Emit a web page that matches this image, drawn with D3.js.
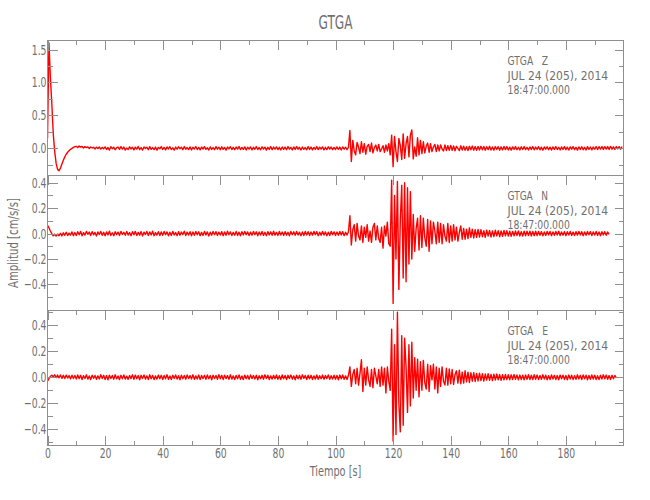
<!DOCTYPE html>
<html><head><meta charset="utf-8">
<script src="https://cdn.jsdelivr.net/npm/d3@7"></script>
<style>
body{margin:0;background:#fff}
svg{display:block}
text{font-family:"Liberation Sans Narrow","DejaVu Sans Condensed","Liberation Sans",sans-serif;fill:#707070}
</style>
</head><body>
<svg id="c" width="650" height="500"></svg>
<script>
// ---- data (cm/s/s), one sample every 0.5 s starting at t = 0 ----
const sampleInterval = 0.5;

const zValues = [
0.15,1.6,1.08,0.68,0.22,-0.05,-0.23,-0.32,-0.34,-0.3,-0.24,-0.18,-0.13,-0.09,-0.06,-0.035,-0.015,0.0,0.015,0.025,
0.03,0.012,0.034,0.018,0.028,0.004,0.026,0.01,0.022,-0.004,0.02,0.006,0.016,-0.01,0.018,-0.004,0.02,-0.012,0.014,-0.008,
0.022,-0.018,0.012,-0.026,0.025,-0.006,0.017,-0.022,0.008,0.02,-0.015,0.026,-0.012,0.019,-0.027,0.004,-0.018,0.023,-0.01,0.016,
-0.024,0.018,-0.012,0.028,-0.02,0.01,-0.026,0.021,-0.004,0.016,-0.022,0.025,-0.015,0.011,-0.019,0.02,-0.027,0.014,-0.008,0.026,
-0.017,0.013,-0.024,0.021,-0.01,0.024,-0.018,0.007,-0.027,0.019,-0.013,0.023,-0.006,0.017,-0.022,0.027,-0.014,0.012,-0.02,0.022,
-0.025,0.016,-0.01,0.027,-0.019,0.013,-0.023,0.02,-0.012,0.025,-0.016,0.009,-0.026,0.021,-0.017,0.011,-0.021,0.026,-0.013,0.018,
-0.022,0.023,-0.015,0.012,-0.027,0.019,-0.008,0.024,-0.018,0.015,-0.021,0.02,-0.012,0.028,-0.02,0.014,-0.017,0.022,-0.026,0.017,
-0.012,0.021,-0.024,0.016,-0.014,0.026,-0.019,0.012,-0.022,0.023,-0.011,0.018,-0.027,0.015,-0.017,0.025,-0.021,0.019,-0.012,0.022,
-0.019,0.015,-0.025,0.02,-0.016,0.018,-0.021,0.027,-0.013,0.014,-0.024,0.021,-0.017,0.025,-0.014,0.017,-0.026,0.019,-0.016,0.012,
-0.022,0.025,-0.017,0.019,-0.023,0.014,-0.016,0.026,-0.02,0.017,-0.012,0.022,-0.025,0.016,-0.019,0.023,-0.014,0.02,-0.021,0.013,
-0.018,0.022,-0.016,0.019,-0.025,0.02,-0.013,0.017,-0.022,0.015,0.27,-0.2,0.12,-0.04,-0.1,0.09,0.02,-0.08,0.1,-0.06,
0.07,-0.09,0.03,0.06,-0.05,0.08,-0.07,0.01,0.05,-0.04,0.06,-0.05,-0.01,0.04,-0.06,0.05,-0.04,0.07,-0.1,0.2,
-0.28,0.18,-0.05,-0.2,0.15,0.04,-0.17,0.22,-0.15,0.07,0.18,-0.13,0.2,0.28,-0.16,0.02,-0.12,0.16,-0.1,0.12,
-0.08,0.1,-0.07,0.03,0.08,-0.06,0.07,-0.05,0.02,0.06,-0.05,0.05,-0.04,0.05,-0.01,-0.04,0.05,-0.035,0.04,-0.03,
0.045,-0.03,0.035,-0.036,0.03,0.0,-0.034,0.038,-0.026,0.032,-0.03,0.025,-0.033,0.03,-0.022,0.034,-0.028,0.026,-0.03,0.029,
-0.027,0.03,-0.022,0.028,-0.03,0.024,-0.02,0.031,-0.026,0.021,-0.028,0.027,-0.018,0.025,-0.029,0.022,-0.024,0.028,-0.02,0.026,
-0.025,0.018,-0.027,0.022,-0.016,0.026,-0.021,0.015,-0.026,0.023,-0.018,0.027,-0.02,0.014,-0.025,0.021,-0.017,0.026,-0.022,0.019,
-0.016,0.025,-0.023,0.017,-0.027,0.02,-0.014,0.024,-0.021,0.018,-0.026,0.022,-0.015,0.027,-0.019,0.016,-0.024,0.021,-0.018,0.025,
-0.021,0.017,-0.026,0.022,-0.013,0.025,-0.02,0.016,-0.027,0.021,-0.017,0.024,-0.022,0.015,-0.025,0.026,-0.016,0.02,-0.023,0.019,
-0.014,0.027,-0.018,0.024,-0.012,0.028,-0.016,0.025,-0.011,0.026,-0.017,0.029,-0.013,0.024,-0.015,0.027,-0.01,0.025,-0.014,0.028
];

const nValues = [
0.065,0.045,0.02,0.0,-0.018,-0.006,-0.02,-0.004,-0.017,0.002,-0.019,0.006,-0.014,0.01,-0.016,0.004,-0.012,0.013,-0.017,0.008,
-0.015,0.014,-0.009,0.016,-0.018,0.007,-0.012,0.017,-0.006,0.011,-0.016,0.015,-0.01,0.009,-0.019,0.012,-0.008,0.016,-0.014,0.01,
-0.017,0.013,-0.011,0.018,-0.015,0.006,-0.018,0.014,-0.009,0.012,-0.016,0.017,-0.007,0.01,-0.014,0.016,-0.012,0.008,-0.018,0.015,
-0.01,0.017,-0.016,0.009,-0.013,0.015,-0.019,0.011,-0.008,0.016,-0.015,0.013,-0.011,0.018,-0.017,0.007,-0.012,0.014,-0.016,0.012,
-0.014,0.016,-0.009,0.013,-0.018,0.01,-0.015,0.017,-0.011,0.008,-0.017,0.015,-0.013,0.012,-0.008,0.018,-0.016,0.011,-0.012,0.014,
-0.018,0.012,-0.014,0.016,-0.01,0.014,-0.017,0.009,-0.015,0.017,-0.011,0.013,-0.019,0.01,-0.013,0.016,-0.009,0.015,-0.016,0.011,
-0.012,0.015,-0.017,0.012,-0.014,0.018,-0.01,0.013,-0.016,0.009,-0.013,0.017,-0.015,0.011,-0.018,0.014,-0.011,0.016,-0.009,0.013,
-0.016,0.011,-0.013,0.017,-0.009,0.014,-0.018,0.012,-0.012,0.016,-0.015,0.01,-0.017,0.015,-0.011,0.013,-0.014,0.018,-0.013,0.009,
-0.015,0.017,-0.011,0.012,-0.016,0.015,-0.013,0.01,-0.018,0.016,-0.01,0.014,-0.014,0.017,-0.012,0.011,-0.017,0.013,-0.015,0.016,
-0.011,0.014,-0.016,0.012,-0.013,0.017,-0.009,0.015,-0.017,0.011,-0.014,0.016,-0.012,0.013,-0.018,0.01,-0.015,0.017,-0.01,0.014,
-0.016,0.012,-0.013,0.016,-0.011,0.015,-0.017,0.01,-0.012,0.014,0.14,-0.09,0.03,0.07,-0.06,0.08,-0.02,-0.05,0.06,-0.07,
0.05,-0.03,0.07,-0.06,0.02,-0.07,0.05,0.08,-0.05,0.06,-0.04,-0.07,0.05,-0.115,0.06,-0.02,0.09,-0.08,-0.1,0.42,
-0.55,0.3,-0.2,0.41,-0.44,0.1,0.38,-0.35,0.4,-0.38,0.36,-0.24,0.33,-0.2,0.15,-0.14,0.04,0.12,-0.13,0.14,
-0.11,0.12,-0.03,-0.1,0.11,-0.14,0.1,-0.08,0.09,0.02,-0.08,0.09,-0.07,0.08,-0.08,0.07,-0.02,-0.06,0.08,-0.07,
0.06,-0.06,0.07,-0.05,0.05,-0.06,0.01,0.06,-0.045,0.04,-0.045,0.035,-0.04,0.045,-0.03,0.035,-0.035,0.03,-0.03,0.032,
-0.028,0.03,-0.025,0.022,-0.03,0.027,-0.02,0.025,-0.027,0.021,-0.024,0.026,-0.019,0.023,-0.025,0.02,-0.022,0.024,-0.018,0.022,
-0.02,0.019,-0.022,0.017,-0.018,0.021,-0.016,0.02,-0.019,0.015,-0.02,0.018,-0.017,0.019,-0.015,0.018,-0.019,0.016,-0.017,0.018,
-0.016,0.017,-0.013,0.015,-0.018,0.012,-0.015,0.017,-0.011,0.016,-0.017,0.013,-0.014,0.016,-0.012,0.018,-0.016,0.012,-0.013,0.015,
-0.017,0.014,-0.012,0.017,-0.015,0.011,-0.016,0.015,-0.013,0.017,-0.011,0.014,-0.017,0.012,-0.014,0.016,-0.01,0.015,-0.016,0.013,
-0.012,0.016,-0.015,0.012,-0.017,0.014,-0.011,0.015,-0.014,0.012,-0.006
];

const eValues = [
-0.03,-0.01,0.008,0.016,0.004,0.019,-0.002,0.017,-0.004,0.018,-0.008,0.015,-0.01,0.017,-0.006,0.013,-0.012,0.016,-0.009,0.014,
-0.013,0.018,-0.011,0.015,-0.017,0.012,-0.009,0.019,-0.014,0.01,-0.018,0.016,-0.008,0.014,-0.016,0.011,-0.013,0.02,-0.01,0.015,
-0.017,0.013,-0.019,0.016,-0.009,0.014,-0.015,0.019,-0.012,0.01,-0.018,0.015,-0.011,0.018,-0.014,0.009,-0.016,0.014,-0.01,0.019,
-0.015,0.017,-0.011,0.013,-0.019,0.015,-0.009,0.018,-0.014,0.011,-0.017,0.019,-0.012,0.014,-0.018,0.01,-0.014,0.017,-0.011,0.015,
-0.018,0.014,-0.012,0.019,-0.015,0.01,-0.017,0.015,-0.009,0.018,-0.014,0.012,-0.019,0.016,-0.011,0.014,-0.015,0.018,-0.01,0.013,
-0.014,0.019,-0.016,0.011,-0.013,0.017,-0.018,0.014,-0.01,0.015,-0.015,0.018,-0.011,0.013,-0.019,0.016,-0.009,0.014,-0.016,0.02,
-0.012,0.015,-0.018,0.016,-0.01,0.013,-0.015,0.019,-0.014,0.011,-0.017,0.014,-0.012,0.018,-0.015,0.01,-0.018,0.016,-0.011,0.014,
-0.016,0.018,-0.01,0.014,-0.014,0.016,-0.019,0.012,-0.011,0.015,-0.015,0.019,-0.009,0.016,-0.017,0.011,-0.014,0.015,-0.012,0.018,
-0.015,0.012,-0.017,0.018,-0.011,0.014,-0.018,0.015,-0.01,0.017,-0.014,0.011,-0.019,0.016,-0.012,0.015,-0.015,0.019,-0.009,0.014,
-0.018,0.016,-0.012,0.015,-0.017,0.011,-0.014,0.018,-0.015,0.012,-0.011,0.017,-0.016,0.014,-0.01,0.018,-0.015,0.012,-0.014,0.016,
-0.016,0.014,-0.019,0.017,-0.012,0.018,-0.015,0.011,-0.017,0.015,0.08,-0.07,0.02,0.06,-0.05,0.07,-0.06,0.03,0.135,-0.11,
0.07,-0.06,0.08,-0.02,-0.07,0.06,-0.08,0.07,0.01,-0.05,0.06,-0.07,0.08,-0.06,0.07,-0.12,0.08,-0.03,-0.1,0.37,
-0.49,0.25,-0.44,0.5,-0.2,-0.42,0.32,-0.37,0.3,0.08,-0.27,0.25,-0.22,0.27,-0.16,0.15,-0.1,0.14,-0.15,0.12,
-0.1,0.13,-0.04,-0.09,0.1,-0.11,0.09,-0.02,0.1,-0.09,0.08,-0.12,0.07,-0.07,0.08,-0.03,-0.06,0.07,-0.06,0.065,
-0.05,0.06,-0.055,0.02,0.05,-0.045,0.055,-0.05,0.04,-0.045,0.05,-0.035,0.04,-0.04,0.035,-0.03,0.035,-0.032,0.03,-0.028,
0.032,-0.026,0.028,-0.03,0.025,-0.022,0.027,-0.024,0.022,-0.026,0.024,-0.022,0.025,-0.02,0.021,-0.023,0.02,-0.02,0.022,-0.018,
0.02,-0.02,0.019,-0.017,0.021,-0.016,0.018,-0.02,0.017,-0.018,0.016,-0.019,0.018,-0.015,0.02,-0.017,0.016,-0.018,0.019,-0.015,
0.017,-0.018,0.014,-0.016,0.019,-0.013,0.016,-0.019,0.012,-0.017,0.018,-0.014,0.015,-0.018,0.013,-0.019,0.017,-0.012,0.016,-0.017,
0.013,-0.019,0.017,-0.014,0.016,-0.018,0.012,-0.016,0.019,-0.013,0.015,-0.017,0.018,-0.012,0.016,-0.019,0.014,-0.015,0.018,-0.013,
0.016,-0.017,0.012,-0.018,0.015,-0.014,0.019,-0.012,0.017,-0.016,0.013,-0.018,0.015,-0.011,0.014,-0.004
];

// ---- labels and ticks ----
const titleText = "GTGA";
const componentLabels = ["GTGA   Z", "GTGA   N", "GTGA   E"];
const dateLabel = "JUL 24 (205), 2014";
const timeLabel = "18:47:00.000";
const xTitle = "Tiempo [s]";
const yTitle = "Amplitud [cm/s/s]";
const xDomain = [0, 200];
const xMajorTicks = [0, 20, 40, 60, 80, 100, 120, 140, 160, 180];
const xMinorTicks = [10, 30, 50, 70, 90, 110, 130, 150, 170, 190];
const zDomain = [-0.413, 1.638];
const nDomain = [-0.606, 0.457];
const eDomain = [-0.525, 0.514];
const zMajorTicks = [0, 0.5, 1.0, 1.5];
const zMinorTicks = [-0.25, 0.25, 0.75, 1.25];
const nMajorTicks = [-0.4, -0.2, 0, 0.2, 0.4];
const nMinorTicks = [-0.5, -0.3, -0.1, 0.1, 0.3];
const eMajorTicks = [-0.4, -0.2, 0, 0.2, 0.4];
const eMinorTicks = [-0.5, -0.3, -0.1, 0.1, 0.3, 0.5];

// ---- drawing ----
const left = 47.5, right = 623.5;
const panelEdges = [40.5, 175.5, 310.5, 445.5];
const axisColor = "#8f8f8f";
const textColor = "#707070";
const tickFontSize = 14;
const digitWidth = 5.9;   // narrow plotting font

const svg = d3.select("#c");
const x = d3.scaleLinear().domain(xDomain).range([left, right]);

// measure the digit width of the available font so tick labels can be narrowed
const probe = svg.append("text").style("font-size", tickFontSize + "px").text("0000000000");
const condense = Math.min(1, digitWidth / (probe.node().getComputedTextLength() / 10));
probe.remove();

const panels = [
  {values: zValues, domain: zDomain, major: zMajorTicks, minor: zMinorTicks, label: componentLabels[0]},
  {values: nValues, domain: nDomain, major: nMajorTicks, minor: nMinorTicks, label: componentLabels[1]},
  {values: eValues, domain: eDomain, major: eMajorTicks, minor: eMinorTicks, label: componentLabels[2]}
];

const defs = svg.append("defs");

function styleAxis(g) {
  g.select(".domain").remove();
  g.selectAll(".tick line").attr("stroke", axisColor).attr("shape-rendering", "crispEdges");
  g.selectAll(".tick text")
    .attr("fill", textColor)
    .style("font-size", tickFontSize + "px")
    .each(function () {
      const w = this.getComputedTextLength();
      if (w > 0) d3.select(this).attr("textLength", w * condense).attr("lengthAdjust", "spacingAndGlyphs");
    });
}

panels.forEach((p, i) => {
  const top = panelEdges[i], bottom = panelEdges[i + 1];
  const y = d3.scaleLinear().domain(p.domain).range([bottom, top]);
  const g = svg.append("g");

  defs.append("clipPath").attr("id", "clip" + i)
    .append("rect").attr("x", left).attr("y", top).attr("width", right - left).attr("height", bottom - top);

  const line = d3.line()
    .x((d, j) => x(j * sampleInterval))
    .y(d => y(d));

  g.append("path")
    .datum(p.values)
    .attr("d", line)
    .attr("fill", "none")
    .attr("stroke", "#ff0000")
    .attr("stroke-width", 1.4)
    .attr("stroke-linejoin", "round")
    .attr("clip-path", `url(#clip${i})`);

  // left axis
  g.append("g").attr("transform", `translate(${left},0)`)
    .call(d3.axisLeft(y).tickValues(p.minor).tickSize(-5).tickFormat(""))
    .call(styleAxis);
  g.append("g").attr("transform", `translate(${left},0)`)
    .call(d3.axisLeft(y).tickValues(p.major).tickSize(-10).tickPadding(1).tickFormat(d3.format(".1f")))
    .call(styleAxis);
  // right axis
  g.append("g").attr("transform", `translate(${right},0)`)
    .call(d3.axisRight(y).tickValues(p.minor).tickSize(-5).tickFormat(""))
    .call(styleAxis);
  g.append("g").attr("transform", `translate(${right},0)`)
    .call(d3.axisRight(y).tickValues(p.major).tickSize(-9).tickFormat(""))
    .call(styleAxis);
  // top axis ticks (pointing down)
  g.append("g").attr("transform", `translate(0,${top})`)
    .call(d3.axisTop(x).tickValues(xMinorTicks).tickSize(-4.5).tickFormat(""))
    .call(styleAxis);
  g.append("g").attr("transform", `translate(0,${top})`)
    .call(d3.axisTop(x).tickValues(xMajorTicks).tickSize(-9).tickFormat(""))
    .call(styleAxis);

  if (i === panels.length - 1) {
    g.append("g").attr("transform", `translate(0,${bottom})`)
      .call(d3.axisBottom(x).tickValues(xMinorTicks).tickSize(-5).tickFormat(""))
      .call(styleAxis);
    g.append("g").attr("transform", `translate(0,${bottom})`)
      .call(d3.axisBottom(x).tickValues(xMajorTicks).tickSize(-10).tickPadding(3).tickFormat(d3.format("d")))
      .call(styleAxis);
  }

  // panel box
  g.append("rect")
    .attr("x", left).attr("y", top).attr("width", right - left).attr("height", bottom - top)
    .attr("fill", "none").attr("stroke", axisColor).attr("stroke-width", 1)
    .attr("shape-rendering", "crispEdges");

  // annotation
  const ann = g.append("g").attr("transform", `translate(507.5,${top})`);
  const lines = [[p.label, 24, 40.6], [dateLabel, 39, 100.6], [timeLabel, 53, 62.3]];
  lines.forEach(([t, dy, len]) => {
    ann.append("text")
      .attr("x", 0).attr("y", dy)
      .attr("fill", textColor)
      .style("font-size", "12.5px")
      .style("white-space", "pre")
      .attr("textLength", len)
      .attr("lengthAdjust", "spacingAndGlyphs")
      .text(t);
  });
});

// title
svg.append("text")
  .attr("x", (left + right) / 2).attr("y", 29)
  .attr("text-anchor", "middle")
  .attr("fill", textColor)
  .style("font-size", "19px")
  .attr("textLength", 34).attr("lengthAdjust", "spacingAndGlyphs")
  .text(titleText);

// x title
svg.append("text")
  .attr("x", (left + right) / 2).attr("y", 476)
  .attr("text-anchor", "middle")
  .attr("fill", textColor)
  .style("font-size", "14px")
  .attr("textLength", 51.7).attr("lengthAdjust", "spacingAndGlyphs")
  .text(xTitle);

// y title
svg.append("text")
  .attr("transform", `translate(17.5,${(panelEdges[0] + panelEdges[3]) / 2}) rotate(-90)`)
  .attr("text-anchor", "middle")
  .attr("fill", textColor)
  .style("font-size", "14px")
  .attr("textLength", 90).attr("lengthAdjust", "spacingAndGlyphs")
  .text(yTitle);
</script>
</body></html>
